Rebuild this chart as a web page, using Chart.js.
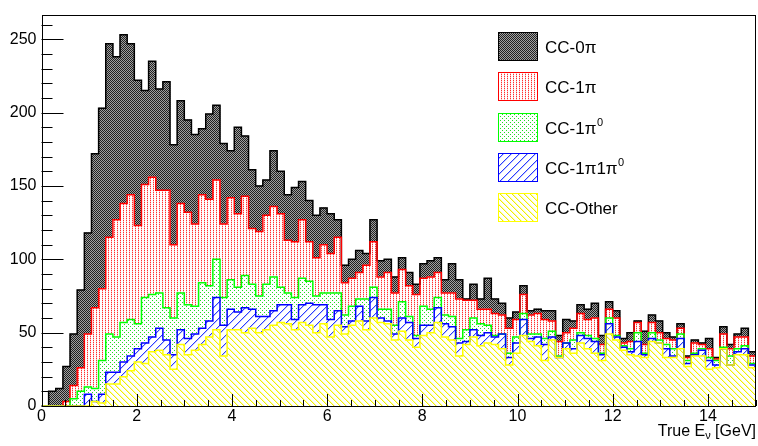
<!DOCTYPE html>
<html>
<head>
<meta charset="utf-8">
<script src="https://cdn.jsdelivr.net/npm/chart.js@4.4.1/dist/chart.umd.min.js"></script>
<style>
  html, body { margin: 0; padding: 0; background: #fff; }
  #wrap { width: 758px; height: 446px; }
</style>
</head>
<body>
<div id="wrap"><canvas id="stackChart" width="758" height="446"></canvas></div>
<script>
// 100 bins of 0.15 GeV between 0 and 15 GeV
const binWidth = 0.15;
const binCentres = Array.from({ length: 100 }, (_, i) => +(binWidth * (i + 0.5)).toFixed(3));

// events per bin, one array per channel (bottom of the stack first)
const ccOther = [0,0,0,0,0,0,0,3,2,15, 15,20,24,30,29,37,38,35,25,42, 35,38,42,47,52,34,52,52,50,53,
  50,52,55,57,56,52,57,55,50,56, 47,55,49,55,58,52,60,57,56,45, 51,45,40,48,50,57,47,45,34,42,
  47,41,43,42,39,28,36,48,44,41, 31,45,33,39,36,43,39,36,31,49, 45,38,35,34,33,44,43,33,33,39,
  27,34,34,25,26,39,28,35,35,26];
const cc1pi1pi0 = [0,0,0,0,0,0,8,0,6,8, 8,10,10,9,14,10,15,10,10,10, 11,11,11,11,22,21,14,12,17,13,
  11,9,10,12,13,7,12,15,19,13, 12,10,5,3,10,6,14,3,2,4, 9,12,6,7,5,10,9,9,9,2,
  5,7,7,5,10,5,7,11,2,6, 11,2,0,4,3,5,7,8,4,7, 2,2,2,10,2,2,0,6,1,7,
  2,1,4,6,2,0,0,2,4,2];
const cc1pi0 = [0,0,0,0,5,10,5,9,23,26, 24,27,25,17,31,29,24,22,25,25, 23,19,31,24,26,19,20,17,22,17,
  14,22,23,12,8,15,18,15,6,8, 18,12,8,10,5,15,7,6,8,6, 11,4,2,13,11,7,6,7,3,8,
  8,8,5,1,0,3,4,4,3,2, 4,4,1,0,6,2,2,2,1,4, 1,1,2,6,1,4,2,3,5,3,
  2,1,1,2,3,1,6,2,2,1];
const cc1pi = [0,0,0,3,9,16,36,55,49,66, 80,81,85,67,77,80,70,80,50,61, 63,56,60,59,54,50,56,50,54,38,
  44,47,48,50,36,38,40,27,26,33, 27,38,22,19,18,23,31,22,25,22, 22,21,28,19,22,17,15,16,27,20,
  12,10,11,15,13,17,12,13,13,14, 13,7,10,7,8,13,11,14,6,6, 12,2,5,7,6,7,5,4,6,4,
  2,7,3,6,1,9,5,8,6,5];
const cc0pi = [0,10,12,24,35,53,69,105,123,132, 111,115,103,99,64,79,69,74,68,70, 63,61,45,58,51,55,32,59,41,40,
  31,24,38,29,31,37,26,28,29,25, 27,12,12,13,15,8,15,11,9,11, 8,9,7,10,11,10,9,20,13,1,
  11,7,21,10,8,7,5,6,3,3, 6,7,4,9,5,6,7,10,6,5, 5,3,6,1,9,5,8,4,2,3,
  1,2,1,7,1,5,3,2,6,3];

const xTickLabels = [0, 2, 4, 6, 8, 10, 12, 14];
const yTickLabels = [0, 50, 100, 150, 200, 250];
const yMax = 266.8;

const canvas = document.getElementById("stackChart");
const ctx = canvas.getContext("2d");

// small tiles that imitate the ROOT fill styles
function makePattern(w, h, paint) {
  const tile = document.createElement("canvas");
  tile.width = w;
  tile.height = h;
  const g = tile.getContext("2d");
  g.fillStyle = "#fff";
  g.fillRect(0, 0, w, h);
  for (let px = 0; px < w; px++) {
    for (let py = 0; py < h; py++) {
      const col = paint(px, py);
      if (col) { g.fillStyle = col; g.fillRect(px, py, 1, 1); }
    }
  }
  return ctx.createPattern(tile, "repeat");
}

const fills = {
  black: makePattern(2, 2, (px, py) => ((px + py) % 2 === 0 ? "#202020" : "#a0a0a0")),
  red: makePattern(3, 2, (px, py) => (px === 0 ? (py === 0 ? "#ff3030" : "#ffc4c4") : null)),
  green: makePattern(4, 4, (px, py) => ((px === 0 && py === 0) || (px === 2 && py === 2) ? "#22dd22" : null)),
  blue: makePattern(8, 8, (px, py) => {
    const k = (px + py) % 8;
    return k === 0 ? "#2a3cff" : k === 1 ? "#c0c6ff" : null;
  }),
  yellow: makePattern(6, 6, (px, py) => {
    const k = (px - py + 12) % 6;
    return k === 0 ? "#f0f000" : k === 1 ? "#fcfcb0" : null;
  }),
};

const channels = [
  { label: "CC-Other", values: ccOther, fill: fills.yellow, line: "#ffff00" },
  { label: "CC-1\u03c01\u03c0", sup: "0", values: cc1pi1pi0, fill: fills.blue, line: "#0000ff" },
  { label: "CC-1\u03c0", sup: "0", values: cc1pi0, fill: fills.green, line: "#00ff00" },
  { label: "CC-1\u03c0", values: cc1pi, fill: fills.red, line: "#ff0000" },
  { label: "CC-0\u03c0", values: cc0pi, fill: fills.black, line: "#000000" },
];

// running totals give the outline of each layer of the stack
const running = new Array(binCentres.length).fill(0);
const outlines = channels.map((ch) => {
  ch.values.forEach((v, i) => { running[i] += v; });
  const pts = binCentres.map((x, i) => ({ x: x, y: running[i] }));
  pts.unshift({ x: 0, y: running[0] });
  pts.push({ x: 15, y: running[running.length - 1] });
  return pts;
});

const barSets = channels.map((ch) => ({
  type: "bar",
  label: ch.label,
  data: binCentres.map((x, i) => ({ x: x, y: ch.values[i] })),
  backgroundColor: ch.fill,
  borderWidth: 0,
  barPercentage: 1,
  categoryPercentage: 1,
  order: 100,
  yAxisID: "y",
}));

const lineSets = channels.map((ch, k) => ({
  type: "line",
  label: ch.label + " outline",
  data: outlines[k],
  borderColor: ch.line,
  borderWidth: 1.5,
  pointRadius: 0,
  fill: false,
  stepped: "middle",
  order: k + 1,
  yAxisID: "y2",
}));

const rootFrame = {
  id: "rootFrame",
  afterDatasetsDraw(chart) {
    const { ctx, chartArea: a, scales: { x, y } } = chart;
    ctx.save();
    ctx.strokeStyle = "#000";
    ctx.lineWidth = 1;
    ctx.beginPath();
    for (let v = 0; v <= 260; v += 10) {
      const py = Math.round(y.getPixelForValue(v)) + 0.5;
      const len = v % 50 === 0 ? 22 : 11;
      ctx.moveTo(a.left, py);
      ctx.lineTo(a.left + len, py);
    }
    for (let k = 0; k <= 30; k++) {
      const px = Math.round(x.getPixelForValue(k * 0.5)) + 0.5;
      const len = k % 4 === 0 ? 12 : 6;
      ctx.moveTo(px, a.bottom);
      ctx.lineTo(px, a.bottom - len);
    }
    ctx.stroke();
    ctx.strokeRect(Math.round(a.left) + 0.5, Math.round(a.top) + 0.5,
      Math.round(a.right) - Math.round(a.left) - 1, Math.round(a.bottom) - Math.round(a.top));
    ctx.restore();
  },
  afterDraw(chart) {
    const { ctx } = chart;
    ctx.save();
    // legend
    const bx = 498, bw = 40, bh = 29;
    const tops = [32, 72, 113, 153, 193];
    const order = [4, 3, 2, 1, 0];
    order.forEach((ci, r) => {
      const ch = channels[ci];
      const top = tops[r];
      ctx.fillStyle = ch.fill;
      ctx.fillRect(bx, top, bw, bh);
      ctx.strokeStyle = ch.line;
      ctx.lineWidth = 1;
      ctx.strokeRect(bx + 0.5, top + 0.5, bw - 1, bh - 1);
      ctx.fillStyle = "#000";
      ctx.font = "17px 'Liberation Sans', Arial, sans-serif";
      ctx.textBaseline = "alphabetic";
      ctx.textAlign = "left";
      const base = top + bh / 2 + 6;
      ctx.fillText(ch.label, 545, base);
      if (ch.sup) {
        const w = ctx.measureText(ch.label).width;
        ctx.font = "11px 'Liberation Sans', Arial, sans-serif";
        ctx.fillText(ch.sup, 545 + w + 0.5, base - 8);
      }
    });
    // x axis title with subscript
    ctx.fillStyle = "#000";
    ctx.textBaseline = "alphabetic";
    ctx.textAlign = "left";
    const big = "16px 'Liberation Sans', Arial, sans-serif";
    const small = "11px 'Liberation Sans', Arial, sans-serif";
    ctx.font = big;
    const w1 = ctx.measureText("True E").width;
    const w3 = ctx.measureText(" [GeV]").width;
    ctx.font = small;
    const w2 = ctx.measureText("\u03bd").width;
    let tx = 756 - (w1 + w2 + w3);
    const ty = 436;
    ctx.font = big;
    ctx.fillText("True E", tx, ty);
    tx += w1;
    ctx.font = small;
    ctx.fillText("\u03bd", tx, ty + 3);
    tx += w2;
    ctx.font = big;
    ctx.fillText(" [GeV]", tx, ty);
    ctx.restore();
  },
};

new Chart(ctx, {
  data: { datasets: barSets.concat(lineSets) },
  options: {
    responsive: false,
    animation: false,
    devicePixelRatio: 1,
    events: [],
    layout: { padding: { top: 4, right: 2.5, left: 0, bottom: 0 } },
    plugins: { legend: { display: false }, tooltip: { enabled: false } },
    scales: {
      x: {
        type: "linear",
        min: 0,
        max: 15,
        offset: false,
        stacked: true,
        grid: { display: false, drawTicks: false },
        border: { display: false },
        afterFit: (scale) => { scale.height = 40; },
        afterBuildTicks: (scale) => { scale.ticks = xTickLabels.map((v) => ({ value: v })); },
        ticks: {
          padding: 1,
          autoSkip: false,
          maxRotation: 0,
          color: "#000",
          font: { family: "'Liberation Sans', Arial, sans-serif", size: 16 },
        },
      },
      y: {
        min: 0,
        max: yMax,
        stacked: true,
        grid: { display: false, drawTicks: false },
        border: { display: false },
        afterFit: (scale) => { scale.width = 41.5; },
        afterBuildTicks: (scale) => { scale.ticks = yTickLabels.map((v) => ({ value: v })); },
        ticks: {
          padding: 5,
          color: "#000",
          font: { family: "'Liberation Sans', Arial, sans-serif", size: 16 },
        },
      },
      y2: { display: false, min: 0, max: yMax },
    },
  },
  plugins: [rootFrame],
});
</script>
</body>
</html>
